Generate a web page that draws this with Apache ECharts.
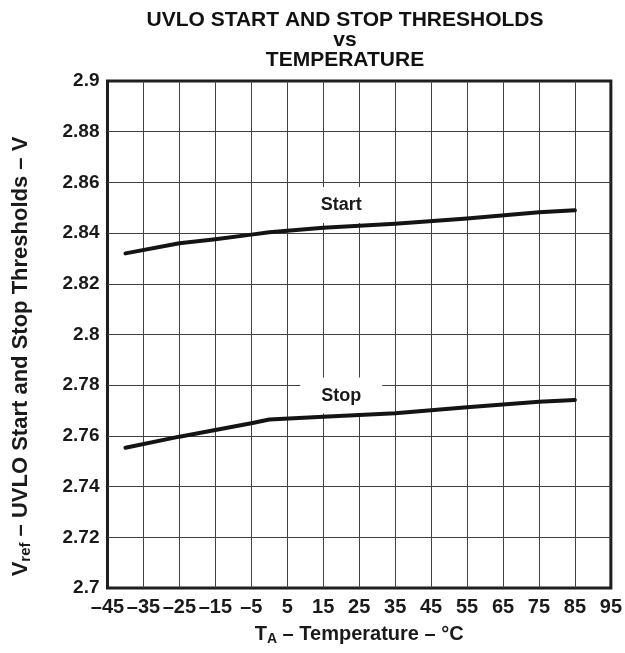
<!DOCTYPE html>
<html><head><meta charset="utf-8">
<script src="https://cdn.jsdelivr.net/npm/echarts@6/dist/echarts.min.js"></script>
<style>html,body{margin:0;padding:0;background:#fff}#c{width:625px;height:653px}</style>
</head><body><div id="c"></div>
<script>
const titleText = 'UVLO START AND STOP THRESHOLDS\nvs\nTEMPERATURE';
const temps  = [-40, -25, -15, -5, 0, 15, 35, 55, 75, 85];
const startV = [2.832, 2.836, 2.8376, 2.8394, 2.8403, 2.8421, 2.8437, 2.8458, 2.8482, 2.849];
const stopV  = [2.7553, 2.7597, 2.7623, 2.765, 2.7665, 2.7676, 2.7689, 2.7713, 2.7735, 2.7742];
const seriesNames = ['Start', 'Stop'];
const labelX = [20, 20];
const labelY = [2.8511, 2.7759];
const xRange = [-45, 95, 10];
const yRange = [2.7, 2.9, 0.02];

const FONT = "'Liberation Sans', Arial, sans-serif";
const chart = echarts.init(document.getElementById('c'), null, {renderer: 'canvas'});

const lineSeries = seriesNames.map((name, k) => ({
  name: name, type: 'line', symbol: 'none', smooth: false, z: 3,
  data: temps.map((t, i) => [t, (k === 0 ? startV : stopV)[i]]),
  lineStyle: {color: '#141414', width: 4, cap: 'round', join: 'round'}
}));

const labelSeries = {
  type: 'scatter', z: 2, symbol: 'circle', symbolSize: 1, silent: true,
  itemStyle: {color: 'rgba(0,0,0,0)', opacity: 1},
  data: seriesNames.map((n, i) => ({value: [labelX[i], labelY[i]], name: n})),
  label: {show: true, position: 'inside', formatter: p => p.name, opacity: 1,
    backgroundColor: '#fff', padding: [9, 21],
    color: '#1a1a1a', fontSize: 18, fontWeight: 'bold', fontFamily: FONT}
};

chart.setOption({
  animation: false,
  backgroundColor: '#fff',
  title: {
    text: titleText, left: 345, top: 10, padding: 0, textAlign: 'center',
    textStyle: {fontSize: 21, fontWeight: 'bold', color: '#111', lineHeight: 20, fontFamily: FONT}
  },
  grid: {left: 107.5, right: 12.5, top: 81, bottom: 65, show: true,
    borderColor: '#1e1e1e', borderWidth: 3, backgroundColor: 'transparent'},
  xAxis: {
    type: 'value', min: xRange[0], max: xRange[1], interval: xRange[2],
    axisLine: {show: false}, axisTick: {show: false},
    splitLine: {show: true, showMinLine: false, showMaxLine: false, lineStyle: {color: '#404040', width: 1}},
    axisLabel: {margin: 9, color: '#1a1a1a', fontSize: 20, fontWeight: 'bold', fontFamily: FONT,
      formatter: v => v < 0 ? '\u2013' + (-v) : String(v)},
    name: '{m|T}{s|A}{m| \u2013 Temperature \u2013 \u00B0C}',
    nameLocation: 'middle', nameGap: 34,
    nameTextStyle: {rich: {
      m: {fontSize: 20, fontWeight: 'bold', color: '#1a1a1a', fontFamily: FONT},
      s: {fontSize: 14, fontWeight: 'bold', color: '#1a1a1a', fontFamily: FONT, padding: [10, 0, 0, 0]}
    }}
  },
  yAxis: {
    type: 'value', min: yRange[0], max: yRange[1], interval: yRange[2],
    axisLine: {show: false}, axisTick: {show: false},
    splitLine: {show: true, showMinLine: false, showMaxLine: false, lineStyle: {color: '#404040', width: 1}},
    axisLabel: {margin: 8, color: '#1a1a1a', fontSize: 19, fontWeight: 'bold', fontFamily: FONT},
    name: '{m|V}{s|ref}{m| \u2013 UVLO Start and Stop Thresholds \u2013 V}',
    nameLocation: 'middle', nameGap: 74,
    nameTextStyle: {padding: [0, 44, 0, 0], rich: {
      m: {fontSize: 22, fontWeight: 'bold', color: '#1a1a1a', fontFamily: FONT},
      s: {fontSize: 15, fontWeight: 'bold', color: '#1a1a1a', fontFamily: FONT, padding: [11, 0, 0, 0]}
    }}
  },
  series: lineSeries.concat([labelSeries])
});
</script></body></html>
